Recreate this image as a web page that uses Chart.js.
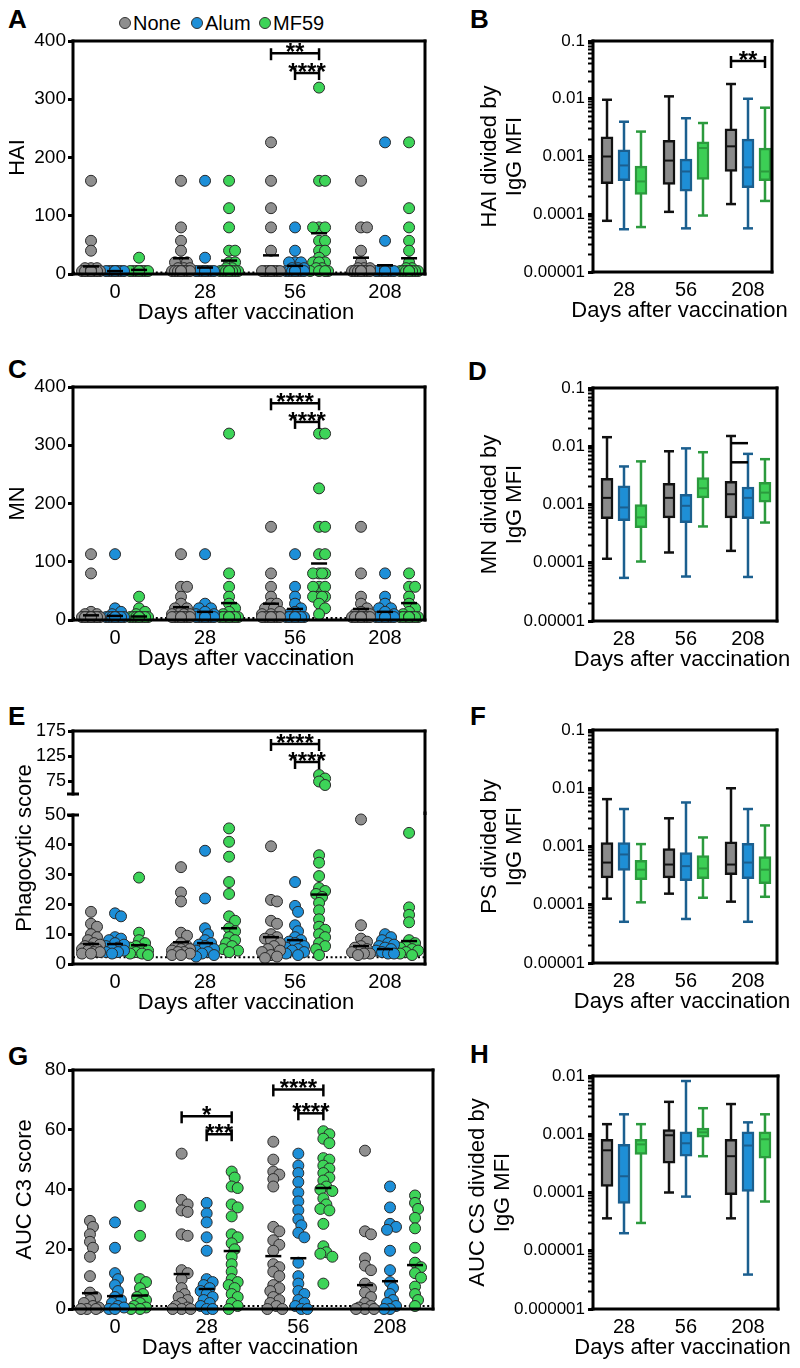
<!DOCTYPE html>
<html><head><meta charset="utf-8">
<script src="https://cdn.jsdelivr.net/npm/chart.js@4.4.1/dist/chart.umd.min.js"></script>
<style>
body{margin:0;background:#fff;width:800px;height:1368px;position:relative;overflow:hidden;font-family:"Liberation Sans",Arial,Helvetica,sans-serif;color:#000;}
.lt{position:absolute;font-weight:bold;font-size:26px;line-height:26px;}
.lg{position:absolute;font-size:20px;line-height:24px;}
.dot{position:absolute;width:10px;height:10px;border-radius:50%;border:1px solid #333;}
</style></head><body>
<div class="lt" style="left:8px;top:6px">A</div>
<div class="lt" style="left:470px;top:6px">B</div>
<div class="lt" style="left:8px;top:356px">C</div>
<div class="lt" style="left:468px;top:358px">D</div>
<div class="lt" style="left:8px;top:703px">E</div>
<div class="lt" style="left:470px;top:703px">F</div>
<div class="lt" style="left:8px;top:1043px">G</div>
<div class="lt" style="left:470px;top:1041px">H</div>
<div class="dot" style="left:119px;top:17px;background:#8f8f8f"></div><div class="lg" style="left:133px;top:11px">None</div>
<div class="dot" style="left:191px;top:17px;background:#1d8fd8"></div><div class="lg" style="left:205px;top:11px">Alum</div>
<div class="dot" style="left:259px;top:17px;background:#3dd458"></div><div class="lg" style="left:273px;top:11px">MF59</div>
<script>
// ---------- categories ----------
const days = ['0', '28', '56', '208'];
const boxDays = ['28', '56', '208'];
const seriesNames = ['None', 'Alum', 'MF59'];

// ---------- A: HAI (per day 0,28,56,208) ----------
const haiNone = [
  [160,57,40,10,10,10,5,5,5,5,5,5,5,5,5,5,5,5,5,5],
  [160,80,57,40,20,20,20,10,10,10,5,5,5,5,5,5,5,5,5,5],
  [226,160,113,80,40,5,5,5,5,5,5,5,5,5,5,5,5,5,5,5],
  [160,80,80,40,20,10,10,10,5,5,5,5,5,5,5,5,5,5,5,5]
];
const haiAlum = [
  [5,5,5,5,5,5,5,5,5,5,5,5,5,5,5,5,5,5,5,5],
  [160,28,5,5,5,5,5,5,5,5,5,5,5,5,5,5,5,5,5,5],
  [80,40,20,20,20,10,10,10,5,5,5,5,5,5,5,5,5,5,5,5],
  [226,57,5,5,5,5,5,5,5,5,5,5,5,5,5,5,5,5,5,5]
];
const haiMF59 = [
  [28,5,5,5,5,5,5,5,5,5,5,5,5,5,5,5,5,5,5,5],
  [160,113,80,40,40,20,20,10,10,5,5,5,5,5,5,5,5,5,5,5],
  [320,160,160,80,80,80,57,57,40,40,28,20,20,20,10,10,5,5,5,5],
  [226,113,80,57,40,20,10,10,5,5,5,5,5,5,5,5,5,5,5,5]
];
const haiMeanNone = [13, 27, 32, 28];
const haiMeanAlum = [5, 11, 14, 15];
const haiMeanMF59 = [7, 23, 70, 27];
const haiTicks = [0, 100, 200, 300, 400];
const haiSig = [[2, 0, 2, 379, '**'], [2, 1, 2, 345, '****']];

// ---------- C: MN ----------
const mnNone = [
  [113,80,14,10,10,5,5,5,5,5,5,5,5,5,5,5,5,5,5,5],
  [113,57,57,40,28,20,20,14,10,10,10,5,5,5,5,5,5,5,5,5],
  [160,80,57,40,28,28,20,20,14,10,10,5,5,5,5,5,5,5,5,5],
  [160,80,40,28,20,14,10,10,5,5,5,5,5,5,5,5,5,5,5,5]
];
const mnAlum = [
  [113,20,14,10,5,5,5,5,5,5,5,5,5,5,5,5,5,5,5,5],
  [113,28,20,20,14,10,10,5,5,5,5,5,5,5,5,5,5,5,5,5],
  [113,57,40,28,20,14,10,5,5,5,5,5,5,5,5,5,5,5,5,5],
  [80,40,28,20,20,14,10,5,5,5,5,5,5,5,5,5,5,5,5,5]
];
const mnMF59 = [
  [40,20,14,10,5,5,5,5,5,5,5,5,5,5,5,5,5,5,5,5],
  [320,80,57,40,28,20,14,10,5,5,5,5,5,5,5,5,5,5,5,5],
  [320,320,226,160,160,113,113,80,80,80,80,57,57,57,40,40,40,40,28,20,10],
  [80,57,57,40,28,20,14,10,5,5,5,5,5,5,5,5,5,5,5,5]
];
const mnMeanNone = [8, 22, 28, 19];
const mnMeanAlum = [7, 14, 19, 14];
const mnMeanMF59 = [6, 29, 97, 29];
const mnTicks = [0, 100, 200, 300, 400];
const mnSig = [[2, 0, 2, 372, '****'], [2, 1, 2, 340, '****']];

// ---------- E: Phagocytic score (broken axis) ----------
const psNone = [
  [17.5,13.5,12.5,10,9,8,7,6.5,6,5.5,5,5,4.5,4,4,3.5,3.5],
  [32.5,24,21,10.5,9.5,7,6,5.5,5,5,4.5,4,4,3.5,3,3],
  [39.5,21.5,21,14.5,13.5,10,9,8.5,8,7,6,5,4.5,4,3,2.5,2],
  [48.5,13,8.5,7.5,6,5.5,5,4.5,4,3.5,3.5,3]
];
const psAlum = [
  [17,16,9,8.5,8,7,6.5,6,5.5,5,4.5,4,4,3.5],
  [38,22,12,10,8,7,6.5,6,5,4.5,4,3.5,3,2.5],
  [27.5,19.5,17.5,13,11,9,8,7.5,7,6,5.5,5,4.5,4,3.5,3],
  [10,9,8,7,6.5,6,5.5,5,4.5,4,3.5,3.5]
];
const psMF59 = [
  [29,10.5,8,7,6,5.5,5,4.5,4,3.5,3.5,3],
  [45.5,41,36,27.5,23.5,16,14.5,12,11,9,8,7,6,5,4.5,4],
  [87,80,74,67,36.5,34,29.5,25.5,24.5,23.5,22.5,20.5,18,15,12.5,11.5,10,9,7,6,5,3],
  [44,19,16.5,14,8,7,6,5.5,5,4.5,4,3.5,3]
];
const psMeanNone = [6.7, 7.3, 9, 6];
const psMeanAlum = [6.7, 7, 8, 5];
const psMeanMF59 = [6.3, 12, 23.3, 7.7];
const psTicksLow = [0, 10, 20, 30, 40, 50];
const psTicksHigh = [75, 125, 175];
const psSig = [[2, 0, 2, 149, '****'], [2, 1, 2, 113, '****']];

// ---------- G: AUC C3 score ----------
const aucNone = [
  [29.5,27.5,25,22.5,20.5,17.5,11,5.5,4,3,2,1,0.5,0,0,0],
  [52,36.5,35,33,32.5,25,24.5,13,12,10,7,5,4,3,2,1,0.5,0,0,0],
  [56,50,46,45,43.5,41,27.5,26,23,21.5,19.5,15,14,12.5,11,8,7,6,4,3,2,1,0,0],
  [53,26,25,17,14.5,13,8.5,7,5.5,4,2,1,0.5,0,0,0]
];
const aucAlum = [
  [29,20.5,12,10,8,6,4,3,2,1,0.5,0,0],
  [35.5,32,29,24,19.5,10,9,8,7,6,5,4,3,2,1,0,0],
  [52,48,45.5,42.5,39,36,33,30,28,25.5,24,15.5,11,8.5,6,5,3,2,1,0,0],
  [41,34,28.5,27.5,26.5,19.5,13,9,7,5,3,2,1,0,0]
];
const aucMF59 = [
  [34.5,24.5,10,9,7,5,4,3,2,1,0.5,0,0],
  [46,44,41,40.5,35,34,31,25,24,22,20,17.5,15,12.5,10,9,8,7,5,4,2,1,0],
  [59.5,58.5,57,55.5,50.5,50,48,47,45.5,44,43,41,40,39.5,37,35,33.5,33,28.5,21,19,18.5,17.5,8.5],
  [38,35.5,33.5,30.5,27,20.5,15.5,14,12,10.5,7.5,5,3,1]
];
const aucMeanNone = [5.3, 11.7, 17.7, 8];
const aucMeanAlum = [4.3, 6.7, 17, 9.3];
const aucMeanMF59 = [4.5, 19.4, 40.5, 14.7];
const aucTicks = [0, 20, 40, 60, 80];
const aucSig = [[1, 0, 2, 64.5, '*'], [1, 1, 2, 58.5, '***'], [2, 0, 2, 73.5, '****'], [2, 1, 2, 65.5, '****']];

// ---------- Box plots: [min, q1, median, q3, max] per day 28,56,208 ----------
const hIggNone = [[7.7e-5,3.4e-4,1e-3,2.2e-3,9.6e-3],[1.1e-4,3.3e-4,8.5e-4,1.9e-3,1.1e-2],[1.5e-4,5.5e-4,1.5e-3,3e-3,1.8e-2]];
const hIggAlum = [[5.5e-5,3.8e-4,7e-4,1.3e-3,4e-3],[5.7e-5,2.5e-4,5.5e-4,9e-4,4.6e-3],[5.7e-5,2.9e-4,6.5e-4,2e-3,1e-2]];
const hIggMF59 = [[6e-5,2.2e-4,3.7e-4,6.8e-4,2.7e-3],[9.5e-5,4e-4,1.4e-3,1.8e-3,3.8e-3],[1.7e-4,3.8e-4,5.5e-4,1.4e-3,7e-3]];
const hIggSig = [[2, 0, 2, 0.045, '**']];

const mIggNone = [[1.17e-4,5.7e-4,1.3e-3,2.8e-3,1.43e-2],[1.5e-4,5.9e-4,1.3e-3,2.3e-3,8.2e-3],[1.6e-4,5.9e-4,1.5e-3,2.5e-3,1.5e-2]];
const mIggAlum = [[5.5e-5,5.3e-4,8.9e-4,2.1e-3,4.5e-3],[5.8e-5,4.9e-4,9.5e-4,1.5e-3,9.2e-3],[5.7e-5,5.7e-4,1.3e-3,2e-3,7.4e-3]];
const mIggMF59 = [[1.05e-4,4e-4,6e-4,1e-3,5.5e-3],[4.2e-4,1.3e-3,1.9e-3,2.9e-3,7.9e-3],[4.9e-4,1.1e-3,1.6e-3,2.4e-3,6e-3]];
const mIggSig = [[2, 0, 1, 0.0113, ''], [2, 0, 1, 0.0053, '']];

const pIggNone = [[1.27e-4,2.9e-4,5.3e-4,1.17e-3,6.5e-3],[1.55e-4,2.9e-4,4.9e-4,9.2e-4,3.05e-3],[1.13e-4,3.3e-4,4.9e-4,1.2e-3,1e-2]];
const pIggAlum = [[5.1e-5,3.9e-4,7.3e-4,1.17e-3,4.4e-3],[5.7e-5,2.6e-4,4.6e-4,7.9e-4,5.7e-3],[5.1e-5,2.8e-4,5.3e-4,1.13e-3,4.4e-3]];
const pIggMF59 = [[1.1e-4,2.7e-4,4e-4,5.8e-4,1.1e-3],[1.32e-4,2.8e-4,4.2e-4,7e-4,1.43e-3],[1.37e-4,2.3e-4,4e-4,6.7e-4,2.3e-3]];

const cIggNone = [[3.6e-5,1.27e-4,5.3e-4,8.2e-4,1.49e-3],[1e-4,3.2e-4,9.6e-4,1.2e-3,3.6e-3],[3.6e-5,9.2e-5,4.2e-4,8.2e-4,3.3e-3]];
const cIggAlum = [[2e-5,6.5e-5,1.9e-4,6.7e-4,2.2e-3],[8.5e-5,4.2e-4,7e-4,1.1e-3,8.2e-3],[3.9e-6,1.04e-4,6.4e-4,1.1e-3,1.6e-3]];
const cIggMF59 = [[3e-5,4.5e-4,6.7e-4,8.2e-4,1.49e-3],[4.2e-4,8.9e-4,1.08e-3,1.27e-3,2.8e-3],[7e-5,3.9e-4,8.2e-4,1.1e-3,2.2e-3]];

// ---------- styling ----------
const FONT = '"Liberation Sans", Arial, Helvetica, sans-serif';
Chart.defaults.font.family = FONT;
Chart.defaults.color = '#000';
const colPoint = ['#8f8f8f', '#1d8fd8', '#3dd458'];
const colBoxFill = ['#8a8a8a', '#1e8fd6', '#3ccf55'];
const colBoxLine = ['#111111', '#1b5f8f', '#2b9a3d'];

function addCanvas(left, top, w, h) {
  const c = document.createElement('canvas');
  c.width = w; c.height = h;
  c.style.cssText = 'position:absolute;left:' + left + 'px;top:' + top + 'px;width:' + w + 'px;height:' + h + 'px;';
  document.body.appendChild(c);
  return c;
}
function seg(ctx, x1, y1, x2, y2, w, color, cap) {
  ctx.beginPath(); ctx.moveTo(x1, y1); ctx.lineTo(x2, y2);
  ctx.lineWidth = w; ctx.strokeStyle = color; ctx.lineCap = cap || 'butt'; ctx.stroke();
}
function swarm(vals, pxY) {
  const sorted = vals.slice().sort((a, b) => b - a);
  const placed = [];
  const cands = [0, 3, -3, 6, -6, 9, -9];
  return sorted.map(v => {
    const py = v * pxY;
    let best = 0, bestD = -1;
    for (const c of cands) {
      let d = Infinity;
      for (const q of placed) d = Math.min(d, Math.hypot(c - q.x, py - q.y));
      if (d >= 6) { best = c; bestD = d; break; }
      if (d > bestD + 0.01) { bestD = d; best = c; }
    }
    placed.push({x: best, y: py});
    return {v: v, dx: best};
  });
}
function drawBrackets(ctx, xs, ys, list, offs) {
  list.forEach(b => {
    const x1 = xs.getPixelForValue(b[0] + offs[b[1]]);
    const x2 = xs.getPixelForValue(b[0] + offs[b[2]]);
    const yy = ys.getPixelForValue(b[3]);
    seg(ctx, x1, yy, x2, yy, 2.5, '#000');
    if (b[4]) {
      seg(ctx, x1, yy - 5, x1, yy + 7, 2.5, '#000');
      seg(ctx, x2, yy - 5, x2, yy + 7, 2.5, '#000');
      ctx.font = 'bold 24px ' + FONT; ctx.fillStyle = '#000';
      ctx.textAlign = 'center'; ctx.textBaseline = 'alphabetic';
      ctx.fillText(b[4], (x1 + x2) / 2, yy + 7);
    }
  });
}
function drawXTitle(ctx, a, text) {
  ctx.font = '22px ' + FONT; ctx.fillStyle = '#000';
  ctx.textAlign = 'center'; ctx.textBaseline = 'middle';
  ctx.fillText(text, (a.left + a.right) / 2 - 3, a.bottom + 39);
}

function scatterPanel(p) {
  const padBottom = p.showX ? 0 : p.padBottom;
  const w = p.plotR + 15 - p.canvasLeft;
  const h = p.plotB + (p.showX ? 52 : p.padBottom) - p.canvasTop;
  const pxX = (p.plotR - p.plotL) / (p.xmax - p.xmin);
  const pxY = (p.plotB - p.plotT) / (p.ymax - p.ymin);
  const keep = p.keep || (() => true);
  const datasets = p.series.map((groups, s) => {
    const pts = [];
    groups.forEach((vals, g) => {
      swarm(vals.filter(keep), pxY).forEach(q => pts.push({x: g + p.offs[s] + q.dx / pxX, y: q.v}));
    });
    return {label: seriesNames[s], data: pts, backgroundColor: colPoint[s], borderColor: '#2a2a2a',
      borderWidth: 1, pointRadius: 5.5, pointHoverRadius: 5.5, clip: false};
  });
  const deco = {
    id: 'deco',
    beforeDatasetsDraw(chart) {
      const {ctx, chartArea: a, scales: {x, y}} = chart;
      if (p.lod != null) {
        ctx.save(); ctx.setLineDash([2, 2.6]);
        const yy = y.getPixelForValue(p.lod);
        seg(ctx, a.left, yy, a.right, yy, 2, '#000');
        ctx.restore();
      }
    },
    afterDatasetsDraw(chart) {
      const {ctx, chartArea: a, scales: {x, y}} = chart;
      ctx.save();
      if (p.means) {
        p.means.forEach((arr, s) => arr.forEach((m, g) => {
          if (m < p.ymin || m > p.ymax) return;
          const px = x.getPixelForValue(g + p.offs[s]), py = y.getPixelForValue(m);
          seg(ctx, px - 8, py, px + 8, py, 2.5, '#000');
        }));
      }
      if (p.brackets) drawBrackets(ctx, x, y, p.brackets, p.offs);
      const L = a.left, R = a.right, T = a.top, B = a.bottom;
      if (p.frame === 'upper') {
        seg(ctx, L, T, R, T, 3, '#000', 'square');
        seg(ctx, L, T, L, B, 3, '#000', 'square');
        seg(ctx, R, T, R, B + p.padBottom, 3, '#000', 'square');
        seg(ctx, L - 6, B, L + 6, B, 3, '#000');
      } else if (p.frame === 'lower') {
        seg(ctx, L, T, L, B, 3, '#000', 'square');
        seg(ctx, L, B, R, B, 3, '#000', 'square');
        seg(ctx, R, T - 2, R, B, 3, '#000', 'square');
        seg(ctx, L - 6, T, L + 6, T, 3, '#000');
      } else {
        seg(ctx, L, T, R, T, 3, '#000', 'square');
        seg(ctx, R, T, R, B, 3, '#000', 'square');
        seg(ctx, L, B, R, B, 3, '#000', 'square');
        seg(ctx, L, T, L, B, 3, '#000', 'square');
      }
      if (p.showX) drawXTitle(ctx, a, 'Days after vaccination');
      if (p.extraTitle) {
        ctx.translate(p.extraTitle.x, p.extraTitle.y); ctx.rotate(-Math.PI / 2);
        ctx.font = '22px ' + FONT; ctx.fillStyle = '#000';
        ctx.textAlign = 'center'; ctx.textBaseline = 'middle';
        ctx.fillText(p.extraTitle.text, 0, 0);
      }
      ctx.restore();
    }
  };
  const canvas = addCanvas(p.canvasLeft, p.canvasTop, w, h);
  return new Chart(canvas, {
    type: 'scatter',
    data: {datasets: datasets},
    plugins: [deco],
    options: {
      responsive: false, animation: false, events: [],
      layout: {padding: {top: p.plotT - p.canvasTop, right: 15, left: 0, bottom: padBottom}},
      plugins: {legend: {display: false}, tooltip: {enabled: false}},
      scales: {
        x: {
          type: 'linear', min: p.xmin, max: p.xmax, display: p.showX,
          afterBuildTicks: s => { s.ticks = [0, 1, 2, 3].map(v => ({value: v})); },
          ticks: {callback: v => days[v], font: {size: 20}, color: '#000', padding: 6, autoSkip: false, maxRotation: 0},
          grid: {display: false, drawTicks: false}, border: {display: false},
          title: {display: false},
          afterFit: s => { s.height = p.showX ? 52 : 0; }
        },
        y: {
          type: 'linear', min: p.ymin, max: p.ymax,
          afterBuildTicks: s => { s.ticks = p.yTicks.map(v => ({value: v})); },
          ticks: {font: {size: p.tickSize || 19}, color: '#000', padding: 2, autoSkip: false},
          grid: {drawOnChartArea: false, drawTicks: true, tickLength: 5, tickWidth: 3, tickColor: '#000'},
          border: {display: false},
          title: {display: !!p.yTitle, text: p.yTitle || '', font: {size: 22, lineHeight: 1.15}, color: '#000', padding: {top: p.yTitlePad || 0, bottom: 0}},
          afterFit: s => { s.width = p.plotL - p.canvasLeft; }
        }
      }
    }
  });
}

function logTicks(minExp, maxExp) {
  const t = [];
  for (let e = minExp; e < maxExp; e++) {
    for (let m = 1; m < 10; m++) t.push({value: m * Math.pow(10, e), major: m === 1});
  }
  t.push({value: Math.pow(10, maxExp), major: true});
  return t;
}
function decLabel(v) {
  const e = Math.round(Math.log10(v));
  return e >= 0 ? String(Math.pow(10, e)) : '0.' + '0'.repeat(-e - 1) + '1';
}

function boxPanel(p) {
  const w = p.plotR + 15 - p.canvasLeft;
  const h = p.plotB + 52 - p.canvasTop;
  const datasets = p.boxes.map((bx, s) => ({
    label: seriesNames[s],
    data: bx.map((b, g) => ({x: g + p.offs[s], y: [b[1], b[3]]})),
    backgroundColor: colBoxFill[s], borderColor: colBoxLine[s], borderWidth: 2.5,
    borderSkipped: false, grouped: false, barThickness: 12, maxBarThickness: 12
  }));
  const deco = {
    id: 'boxdeco',
    beforeDatasetsDraw(chart) {
      const {ctx, scales: {x, y}} = chart;
      ctx.save();
      p.boxes.forEach((bx, s) => bx.forEach((b, g) => {
        const px = x.getPixelForValue(g + p.offs[s]);
        const y0 = y.getPixelForValue(b[0]), y4 = y.getPixelForValue(b[4]);
        seg(ctx, px, y0, px, y4, 2.5, colBoxLine[s]);
        seg(ctx, px - 5, y0, px + 5, y0, 2.5, colBoxLine[s]);
        seg(ctx, px - 5, y4, px + 5, y4, 2.5, colBoxLine[s]);
      }));
      ctx.restore();
    },
    afterDatasetsDraw(chart) {
      const {ctx, chartArea: a, scales: {x, y}} = chart;
      ctx.save();
      p.boxes.forEach((bx, s) => bx.forEach((b, g) => {
        const px = x.getPixelForValue(g + p.offs[s]);
        const ym = y.getPixelForValue(b[2]);
        seg(ctx, px - 5, ym, px + 5, ym, 2, colBoxLine[s]);
      }));
      if (p.brackets) drawBrackets(ctx, x, y, p.brackets, p.offs);
      const L = a.left, R = a.right, T = a.top, B = a.bottom;
      seg(ctx, L, T, R, T, 3, '#000', 'square');
      seg(ctx, R, T, R, B, 3, '#000', 'square');
      seg(ctx, L, B, R, B, 3, '#000', 'square');
      seg(ctx, L, T, L, B, 3, '#000', 'square');
      drawXTitle(ctx, a, 'Days after vaccination');
      ctx.restore();
    }
  };
  const canvas = addCanvas(p.canvasLeft, p.canvasTop, w, h);
  return new Chart(canvas, {
    type: 'bar',
    data: {datasets: datasets},
    plugins: [deco],
    options: {
      responsive: false, animation: false, events: [],
      layout: {padding: {top: p.plotT - p.canvasTop, right: 15, left: 0, bottom: 0}},
      plugins: {legend: {display: false}, tooltip: {enabled: false}},
      scales: {
        x: {
          type: 'linear', min: p.xmin, max: p.xmax, offset: false,
          afterBuildTicks: s => { s.ticks = [0, 1, 2].map(v => ({value: v})); },
          ticks: {callback: v => boxDays[v], font: {size: 20}, color: '#000', padding: 6, autoSkip: false, maxRotation: 0},
          grid: {display: false, drawTicks: false, offset: false}, border: {display: false},
          title: {display: false},
          afterFit: s => { s.height = 52; }
        },
        y: {
          type: 'logarithmic', min: Math.pow(10, p.minExp), max: Math.pow(10, p.maxExp),
          afterBuildTicks: s => { s.ticks = logTicks(p.minExp, p.maxExp); },
          ticks: {font: {size: 17}, color: '#000', padding: 3, autoSkip: false,
            callback: (v, i, t) => (t[i] && t[i].major) ? decLabel(v) : ''},
          grid: {drawOnChartArea: false, drawTicks: true, tickLength: 5, tickColor: '#000',
            tickWidth: c => (c.tick && c.tick.major) ? 3 : 2},
          border: {display: false},
          title: {display: true, text: p.yTitle, font: {size: 22, lineHeight: 1.15}, color: '#000', padding: {top: p.yTitlePad, bottom: 0}},
          afterFit: s => { s.width = p.plotL - p.canvasLeft; }
        }
      }
    }
  });
}

// ---------- build panels ----------
const offsL = [-0.267, 0, 0.267];
const offsG = [-0.273, 0, 0.273];
const offsBox = [-0.274, 0, 0.274];

scatterPanel({canvasLeft: 0, canvasTop: 21, plotL: 73, plotT: 41, plotR: 425, plotB: 274, showX: true,
  xmin: -0.467, xmax: 3.444, offs: offsL, ymin: 0, ymax: 400, yTicks: haiTicks, yTitle: 'HAI', yTitlePad: 4.9,
  series: [haiNone, haiAlum, haiMF59], means: [haiMeanNone, haiMeanAlum, haiMeanMF59], lod: 2.5, brackets: haiSig, frame: 'full'});

scatterPanel({canvasLeft: 0, canvasTop: 367, plotL: 73, plotT: 387, plotR: 425, plotB: 620, showX: true,
  xmin: -0.467, xmax: 3.444, offs: offsL, ymin: 0, ymax: 400, yTicks: mnTicks, yTitle: 'MN', yTitlePad: 4.9,
  series: [mnNone, mnAlum, mnMF59], means: [mnMeanNone, mnMeanAlum, mnMeanMF59], lod: 3.5, brackets: mnSig, frame: 'full'});

// E lower segment (0-50)
scatterPanel({canvasLeft: 0, canvasTop: 711, plotL: 73, plotT: 815, plotR: 425, plotB: 964, showX: true,
  xmin: -0.467, xmax: 3.444, offs: offsL, ymin: 0, ymax: 50, yTicks: psTicksLow, yTitle: null,
  series: [psNone, psAlum, psMF59], keep: v => v <= 50, means: [psMeanNone, psMeanAlum, psMeanMF59], lod: 2.3,
  frame: 'lower', extraTitle: {text: 'Phagocytic score', x: 25, y: 137}});
// E upper segment (50-175)
scatterPanel({canvasLeft: 0, canvasTop: 711, plotL: 73, plotT: 731, plotR: 425, plotB: 794, showX: false, padBottom: 21,
  xmin: -0.467, xmax: 3.444, offs: offsL, ymin: 49, ymax: 175, yTicks: psTicksHigh, yTitle: null, tickSize: 18,
  series: [psNone, psAlum, psMF59], keep: v => v > 50, brackets: psSig, frame: 'upper'});

scatterPanel({canvasLeft: 0, canvasTop: 1050, plotL: 73, plotT: 1070, plotR: 433, plotB: 1309, showX: true,
  xmin: -0.458, xmax: 3.469, offs: offsG, ymin: 0, ymax: 80, yTicks: aucTicks, yTitle: 'AUC C3 score', yTitlePad: 11.9,
  series: [aucNone, aucAlum, aucMF59], means: [aucMeanNone, aucMeanAlum, aucMeanMF59], lod: 1, brackets: aucSig, frame: 'full'});

boxPanel({canvasLeft: 440, canvasTop: 21, plotL: 593, plotT: 41, plotR: 772, plotB: 272, xmin: -0.5, xmax: 2.387,
  offs: offsBox, minExp: -5, maxExp: -1, yTitle: ['HAI divided by', 'IgG MFI'], yTitlePad: 37.4,
  boxes: [hIggNone, hIggAlum, hIggMF59], brackets: hIggSig});
boxPanel({canvasLeft: 440, canvasTop: 368, plotL: 593, plotT: 388, plotR: 777, plotB: 621, xmin: -0.5, xmax: 2.468,
  offs: offsBox, minExp: -5, maxExp: -1, yTitle: ['MN divided by', 'IgG MFI'], yTitlePad: 37.4,
  boxes: [mIggNone, mIggAlum, mIggMF59], brackets: mIggSig});
boxPanel({canvasLeft: 440, canvasTop: 710, plotL: 593, plotT: 730, plotR: 777, plotB: 963, xmin: -0.5, xmax: 2.468,
  offs: offsBox, minExp: -5, maxExp: -1, yTitle: ['PS divided by', 'IgG MFI'], yTitlePad: 37.4,
  boxes: [pIggNone, pIggAlum, pIggMF59]});
boxPanel({canvasLeft: 440, canvasTop: 1056, plotL: 593, plotT: 1076, plotR: 778, plotB: 1309, xmin: -0.5, xmax: 2.484,
  offs: offsBox, minExp: -6, maxExp: -2, yTitle: ['AUC CS divided by', 'IgG MFI'], yTitlePad: 25.4,
  boxes: [cIggNone, cIggAlum, cIggMF59]});
</script>
</body></html>
